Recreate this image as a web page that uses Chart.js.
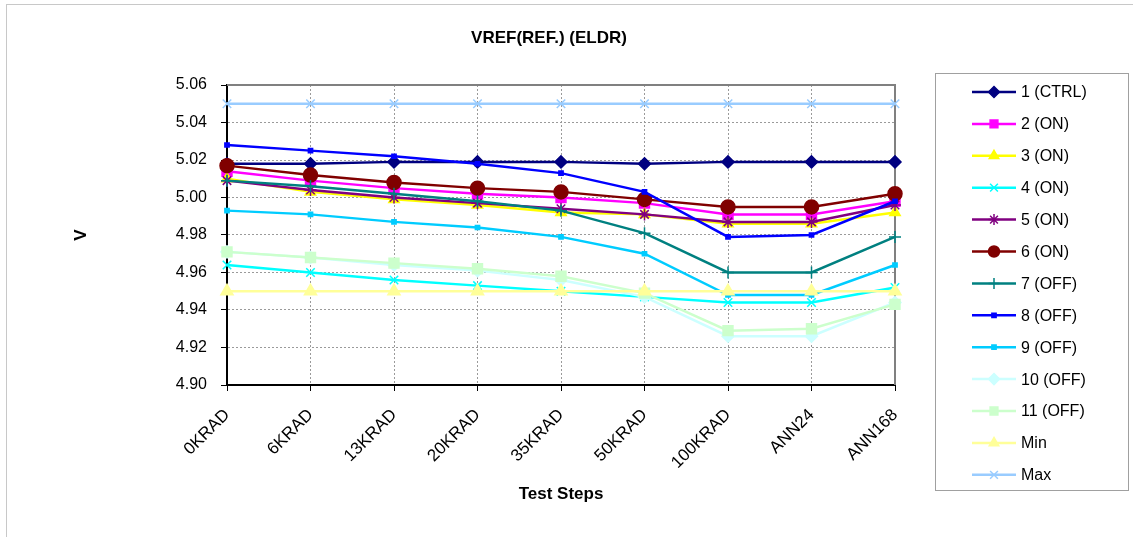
<!DOCTYPE html>
<html>
<head>
<meta charset="utf-8">
<script src="https://cdn.jsdelivr.net/npm/chart.js@4"></script>
<style>
  html, body { margin: 0; padding: 0; background: #fff; }
  #wrap { width: 1133px; height: 537px; }
</style>
</head>
<body>
<div id="wrap"><canvas id="vref" width="1133" height="537"></canvas></div>
<script>
const categories = ['0KRAD', '6KRAD', '13KRAD', '20KRAD', '35KRAD', '50KRAD', '100KRAD', 'ANN24', 'ANN168'];
const yTicks = [4.90, 4.92, 4.94, 4.96, 4.98, 5.00, 5.02, 5.04, 5.06];

const ctrl1 = [5.018, 5.018, 5.019, 5.019, 5.019, 5.018, 5.019, 5.019, 5.019];
const on2 = [5.014, 5.009, 5.005, 5.002, 5.000, 4.997, 4.991, 4.991, 4.998];
const on3 = [5.010, 5.003, 4.999, 4.996, 4.992, 4.991, 4.986, 4.986, 4.992];
const on4 = [4.964, 4.960, 4.956, 4.953, 4.950, 4.947, 4.944, 4.944, 4.952];
const on5 = [5.009, 5.004, 5.000, 4.997, 4.994, 4.991, 4.987, 4.987, 4.996];
const on6 = [5.017, 5.012, 5.008, 5.005, 5.003, 4.999, 4.995, 4.995, 5.002];
const off7 = [5.009, 5.006, 5.002, 4.998, 4.993, 4.981, 4.960, 4.960, 4.979];
const off8 = [5.028, 5.025, 5.022, 5.018, 5.013, 5.003, 4.979, 4.980, 4.998];
const off9 = [4.993, 4.991, 4.987, 4.984, 4.979, 4.970, 4.948, 4.948, 4.964];
const off10 = [4.971, 4.968, 4.964, 4.961, 4.956, 4.947, 4.926, 4.926, 4.944];
const off11 = [4.971, 4.968, 4.965, 4.962, 4.958, 4.949, 4.929, 4.930, 4.943];
const minLimit = [4.95, 4.95, 4.95, 4.95, 4.95, 4.95, 4.95, 4.95, 4.95];
const maxLimit = [5.05, 5.05, 5.05, 5.05, 5.05, 5.05, 5.05, 5.05, 5.05];

const FONT = '"Liberation Sans", Arial, sans-serif';

function series(label, data, color, style, radius) {
  return {
    label: label,
    data: data,
    borderColor: color,
    backgroundColor: color,
    pointBackgroundColor: color,
    pointBorderColor: color,
    pointStyle: style,
    pointRadius: radius,
    pointBorderWidth: 1.5,
    borderWidth: 2.5,
    tension: 0,
    fill: false
  };
}

const datasets = [
  series('1 (CTRL)', ctrl1, '#000080', 'rectRot', 6),
  series('2 (ON)', on2, '#FF00FF', 'rect', 7),
  series('3 (ON)', on3, '#FFFF00', 'triangle', 6),
  series('4 (ON)', on4, '#00FFFF', 'crossRot', 6),
  series('5 (ON)', on5, '#800080', 'star', 6),
  series('6 (ON)', on6, '#800000', 'circle', 7),
  series('7 (OFF)', off7, '#008080', 'cross', 6),
  series('8 (OFF)', off8, '#0000FF', 'rect', 3),
  series('9 (OFF)', off9, '#00CCFF', 'rect', 3),
  series('10 (OFF)', off10, '#CCFFFF', 'rectRot', 6),
  series('11 (OFF)', off11, '#CCFFCC', 'rect', 7),
  series('Min', minLimit, '#FFFF99', 'triangle', 7),
  series('Max', maxLimit, '#99CCFF', 'crossRot', 6)
];
// excel paints later series on top
datasets.forEach((d, i) => { d.order = datasets.length - i; });

const framePlugin = {
  id: 'frame',
  beforeDatasetsDraw(chart) {
    const { ctx, chartArea: a } = chart;
    ctx.save();
    ctx.strokeStyle = '#808080';
    ctx.lineWidth = 2;
    ctx.beginPath();
    ctx.moveTo(a.left, a.top);
    ctx.lineTo(a.right, a.top);
    ctx.lineTo(a.right, a.bottom);
    ctx.stroke();
    ctx.restore();
  },
  afterDraw(chart) {
    const ctx = chart.ctx;
    ctx.save();
    // outer chart border
    ctx.strokeStyle = '#c8c8c8';
    ctx.lineWidth = 1;
    ctx.strokeRect(6.5, 4.5, 1140, 540);

    // title
    ctx.fillStyle = '#000';
    ctx.font = 'bold 17px ' + FONT;
    ctx.textAlign = 'center';
    ctx.textBaseline = 'middle';
    ctx.fillText('VREF(REF.) (ELDR)', 549, 38);

    // legend box
    ctx.strokeStyle = '#a0a0a0';
    ctx.strokeRect(935.5, 73.5, 193, 417);
    ctx.font = '16px ' + FONT;
    ctx.textAlign = 'left';
    chart.data.datasets.forEach((ds, i) => {
      const y = 92 + i * 31.9;
      ctx.strokeStyle = ds.borderColor;
      ctx.lineWidth = 2.5;
      ctx.beginPath();
      ctx.moveTo(972, y);
      ctx.lineTo(1016, y);
      ctx.stroke();
      if (Chart.helpers && Chart.helpers.drawPoint) {
        ctx.fillStyle = ds.pointBackgroundColor;
        ctx.strokeStyle = ds.pointBorderColor;
        ctx.lineWidth = 1.5;
        Chart.helpers.drawPoint(ctx, {
          pointStyle: ds.pointStyle,
          radius: Math.min(ds.pointRadius, 5.5),
          rotation: 0,
          borderWidth: 1.5
        }, 994, y);
      }
      ctx.fillStyle = '#000';
      ctx.fillText(ds.label, 1021, y + 1);
    });
    ctx.restore();
  }
};

new Chart(document.getElementById('vref'), {
  type: 'line',
  data: { labels: categories, datasets: datasets },
  plugins: [framePlugin],
  options: {
    responsive: false,
    animation: false,
    devicePixelRatio: 1,
    layout: { padding: { left: 0, top: 85, right: 238, bottom: 0 } },
    plugins: {
      legend: { display: false },
      title: { display: false },
      tooltip: { enabled: false }
    },
    scales: {
      x: {
        type: 'category',
        offset: false,
        afterFit: (scale) => { scale.height = 537 - 385; },
        grid: { color: '#9a9a9a', lineWidth: 1, tickLength: 6, tickColor: '#000', drawTicks: true },
        border: { color: '#000', width: 2, dash: [2, 2] },
        ticks: {
          color: '#000',
          font: { family: FONT, size: 17 },
          minRotation: 45,
          maxRotation: 45,
          padding: 14,
          autoSkip: false
        },
        title: {
          display: true,
          text: 'Test Steps',
          color: '#000',
          font: { family: FONT, size: 17, weight: 'bold' },
          padding: { top: 0, bottom: 32 }
        }
      },
      y: {
        min: yTicks[0],
        max: yTicks[yTicks.length - 1],
        afterFit: (scale) => { scale.width = 227; },
        afterBuildTicks: (scale) => { scale.ticks = yTicks.map(v => ({ value: v })); },
        grid: { color: '#9a9a9a', lineWidth: 1, tickLength: 6, tickColor: '#000', drawTicks: true },
        border: { color: '#000', width: 2, dash: [2, 2] },
        ticks: {
          color: '#000',
          font: { family: FONT, size: 16 },
          padding: 14,
          callback: (v) => Number(v).toFixed(2)
        },
        title: {
          display: true,
          text: 'V',
          color: '#000',
          font: { family: FONT, size: 17, weight: 'bold' },
          padding: { top: 71, bottom: 0 }
        }
      }
    }
  }
});
</script>
</body>
</html>
